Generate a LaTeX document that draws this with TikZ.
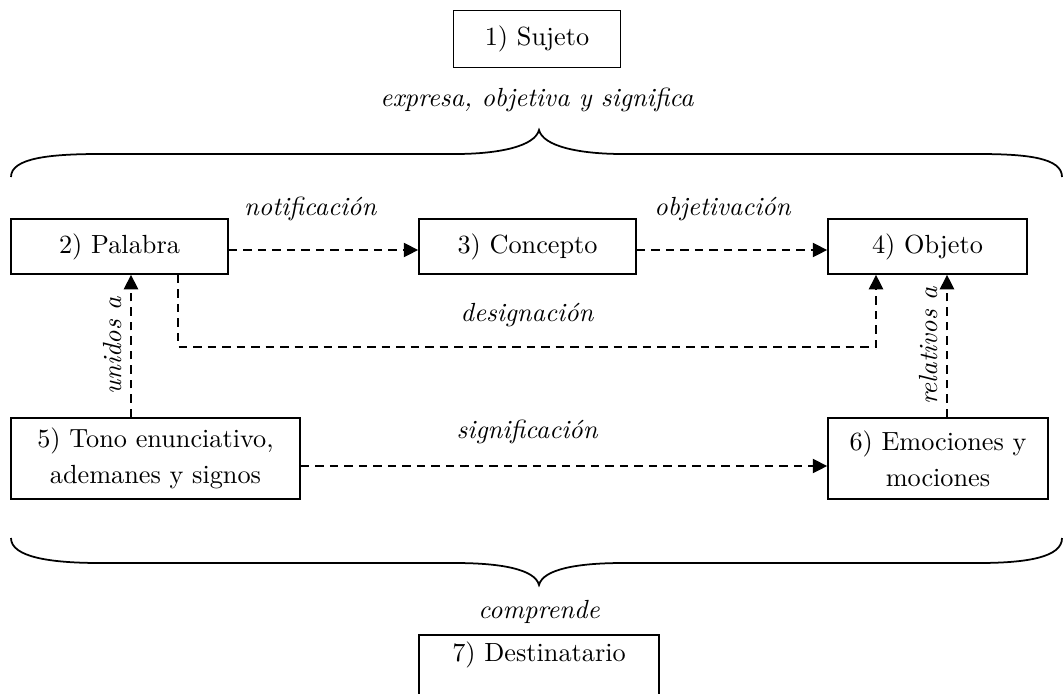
\documentclass[tikz,border=0pt]{standalone}
\usetikzlibrary{arrows.meta}

\begin{document}
\begin{tikzpicture}[x=0.4pt,y=-0.4pt,>={Triangle[length=5.8pt,width=5.6pt]},
   caja/.style={draw,line width=0.6pt,align=center,inner sep=0pt,font=\fontsize{10.5}{14.4}\selectfont},
   rel/.style={->,line width=0.9pt,dash pattern=on 3.4pt off 2.4pt},
   etq/.style={font=\fontsize{10.5}{12}\selectfont\itshape},
   llave/.style={line width=0.7pt}]
   \path[use as bounding box,clip] (0,0) rectangle (1064,693);
   % cajas
   \node[caja,minimum width=66.8pt,minimum height=22.8pt] (sujeto) at (537,39) {1) Sujeto};
   \node[caja,minimum width=86.8pt,minimum height=22pt] (palabra) at (119.5,246.5) {2) Palabra};
   \node[caja,minimum width=86.8pt,minimum height=22pt] (concepto) at (527.5,246.5) {3) Concepto};
   \node[caja,minimum width=79.6pt,minimum height=22pt] (objeto) at (927.5,246.5) {4) Objeto};
   \node[caja,minimum width=115.6pt,minimum height=32.4pt] (tono) at (155.5,458.5) {5) Tono enunciativo,\\ademanes y signos};
   \node[caja,minimum width=88pt,minimum height=32.4pt] (emociones) at (938,458.5) {6) Emociones y\\mociones};
   \node[caja,anchor=north,minimum width=96pt,inner ysep=3.3pt,text height=7.2pt,text depth=30pt] (destinatario) at (539,634) {7) Destinatario};
   % textos de las llaves
   \node[etq] (expresa) at (537,100) {expresa, objetiva y significa};
   \node[etq] (comprende) at (539,612) {comprende};
   % llaves
   \draw[llave] (11,177) .. controls (11,158) and (50,154) .. (100,154) -- (455,154)
      .. controls (500,154) and (535,146) .. (539,130) .. controls (543,146) and (578,154) .. (623,154)
      -- (978,154) .. controls (1028,154) and (1062,158) .. (1062,177);
   \draw[llave] (11,538) .. controls (11,557) and (50,563) .. (100,563) -- (455,563)
      .. controls (500,563) and (535,569) .. (539,585) .. controls (543,569) and (578,563) .. (623,563)
      -- (978,563) .. controls (1028,563) and (1062,557) .. (1062,538);
   % relaciones
   \path[rel]
   ([yshift=-1.4pt]palabra.east) edge node[etq,pos=0.43,above=8pt] {notificación} ([yshift=-1.4pt]concepto.west)
   ([yshift=-1.4pt]concepto.east) edge node[etq,pos=0.45,above=8pt] {objetivación} ([yshift=-1.4pt]objeto.west);
   \draw[rel] ([xshift=23.4pt]palabra.south) -- ++(0,72) -| node[etq,pos=0.25,above=4pt] {designación} ([xshift=-20.6pt]objeto.south);
   \draw[rel] ([xshift=-9.8pt]tono.north) -- node[etq,above,sloped] {unidos a} ([xshift=-9.8pt]tono.north |- palabra.south);
   \draw[rel] ([xshift=3.6pt]emociones.north) -- node[etq,above,sloped] {relativos a} ([xshift=3.6pt]emociones.north |- objeto.south);
   \draw[rel] ([yshift=-3pt]tono.east) -- node[etq,pos=0.43,above=5pt] {significación} ([yshift=-3pt]tono.east -| emociones.west);
\end{tikzpicture}
\end{document}
